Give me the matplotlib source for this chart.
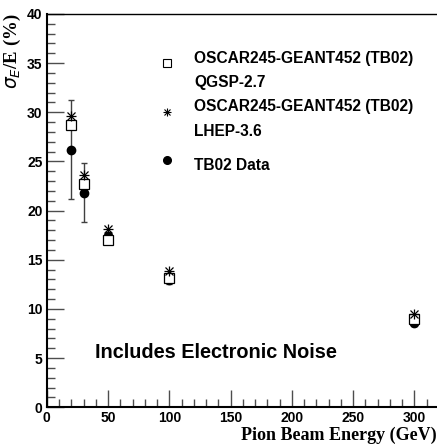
import matplotlib.pyplot as plt
from matplotlib import ticker
from matplotlib.lines import Line2D

energy = [20, 30, 50, 100, 300]
qgsp = [28.7, 22.7, 17.0, 13.1, 9.0]
lhep = [29.6, 23.6, 18.1, 13.9, 9.5]
data_res = [26.2, 21.8, 17.4, 12.9, 8.6]
data_err = [5.0, 3.0, 0.4, 0.4, 0.3]

plt.rcParams['font.family'] = ['Liberation Sans', 'DejaVu Sans']

fig = plt.figure(figsize=(4.37, 4.45), dpi=100)
ax = fig.add_axes([0.107, 0.0847, 0.893, 0.884])

ax.errorbar(energy, data_res, yerr=data_err, fmt='o', color='black', ms=6,
            elinewidth=1, capsize=2, ecolor='0.25', zorder=3)
ax.plot(energy, qgsp, 's', mfc='white', mec='black', ms=6.5, mew=0.9, zorder=4)
ax.plot(energy, lhep, '+', color='black', ms=7, mew=0.9, zorder=5)
ax.plot(energy, lhep, 'x', color='black', ms=5.5, mew=0.9, zorder=5)

ax.set_xlim(0, 318.5)
ax.set_ylim(0, 40)

ax.xaxis.set_major_locator(ticker.MultipleLocator(50))
ax.xaxis.set_minor_locator(ticker.MultipleLocator(10))
ax.yaxis.set_major_locator(ticker.MultipleLocator(5))
ax.yaxis.set_minor_locator(ticker.MultipleLocator(1))
ax.tick_params(which='both', direction='in', top=False, right=False, color='0.3', width=1)
ax.tick_params(which='major', length=12, labelsize=10, pad=3)
ax.tick_params(which='minor', length=6)
ax.xaxis.set_major_formatter(ticker.FormatStrFormatter('%d'))
ax.yaxis.set_major_formatter(ticker.FormatStrFormatter('%d'))
for lab in ax.get_xticklabels() + ax.get_yticklabels():
    lab.set_fontweight('bold')
ax.spines['left'].set_linewidth(1.5)
ax.spines['bottom'].set_linewidth(1.5)
ax.spines['top'].set_linewidth(1.0)
ax.spines['right'].set_visible(False)

# hand-made legend, figure coordinates
mx = 167 / 437
for y, kw in [(63, dict(marker='s', mfc='white', mec='black', ms=6, mew=0.8)),
              (112, dict(marker='+', color='black', ms=6, mew=0.8)),
              (112, dict(marker='x', color='black', ms=4.5, mew=0.8)),
              (160, dict(marker='o', color='black', ms=5.5))]:
    fig.add_artist(Line2D([mx], [1 - y / 445], linestyle='none',
                          transform=fig.transFigure, **kw))
tx = 194 / 437
legend_rows = [('OSCAR245-GEANT452 (TB02)', 58), ('QGSP-2.7', 82),
               ('OSCAR245-GEANT452 (TB02)', 107), ('LHEP-3.6', 132),
               ('TB02 Data', 165)]
for label, y in legend_rows:
    fig.text(tx, 1 - y / 445, label, fontsize=11.2, fontweight='bold',
             va='center', ha='left')

fig.text(95 / 437, 1 - 352 / 445, 'Includes Electronic Noise',
         fontsize=14.3, fontweight='bold', va='center', ha='left')

ax.set_xlabel('Pion Beam Energy (GeV)', fontsize=13, fontweight='bold',
              family='Liberation Serif', loc='right', labelpad=1)
ax.set_ylabel(r'$\sigma_{E}$/E (%)', fontsize=13.5, fontweight='bold',
              family='Liberation Serif', loc='top', labelpad=3)

fig.savefig('out.png', dpi=100)
